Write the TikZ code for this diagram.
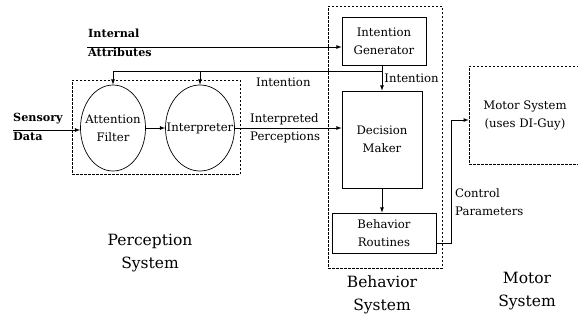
\documentclass[tikz,border=0pt]{standalone}
\usepackage{fontspec}
\setmainfont{DejaVu Serif}
\usetikzlibrary{shapes,arrows,positioning,calc}

\begin{document}
\begin{tikzpicture}[x=1pt,y=-1pt,>=latex,
every node/.style={font=\fontsize{11.7}{18}\selectfont},
block/.style={
% The shape:
rectangle,
% The border:
draw=black,line width=0.8pt,
% The text
align=center,inner sep=0pt
},
blob/.style={
% The shape:
ellipse,
% The border:
draw=black,line width=0.7pt,
inner sep=0pt
},
group/.style={
% The shape:
rectangle,
% The border: short dashes
draw=black,line width=0.6pt,dash pattern=on 2.5pt off 1.5pt,
align=center,inner sep=0pt
},
tag/.style={align=left,inner sep=0pt},
heading/.style={tag,font=\fontsize{11.2}{19}\selectfont\bfseries},
caption/.style={align=center,inner sep=0pt,font=\fontsize{15.5}{23}\selectfont},
link/.style={line width=0.8pt}]

\useasboundingbox[fill=white] (0,0) rectangle (578,322);

% Perception system
\node (perc) [group, minimum width=168pt, minimum height=94pt] at (156,127) {};
\node (attn) [blob, minimum width=65pt, minimum height=86pt,
 label={[align=center]center:Attention\\Filter}] at (113,128) {};
\node (interp) [blob, minimum width=69pt, minimum height=86pt,
 label={center:Interpreter}] at (200,128) {};

% Behavior system
\node (beh) [group, minimum width=114pt, minimum height=262pt] at (385,137) {};
\node (igen) [block, minimum width=84pt, minimum height=48pt] at (384,41) {Intention\\Generator};
\node (dm) [block, minimum width=80pt, minimum height=97pt] at (382,139.5) {Decision\\Maker};
\node (brout) [block, minimum width=104pt, minimum height=40pt] at (384,233) {Behavior\\Routines};

% Motor system
\node (motor) [group, minimum width=112pt, minimum height=98pt] at (525,115) {Motor System\\(uses DI-Guy)};

% labels
\node (iatag) [heading, anchor=west] at (88,43) {Internal\\Attributes};
\node (sdtag) [heading, anchor=west] at (13,127) {Sensory\\Data};
\node (iptag) [tag, anchor=west] at (250,128) {Interpreted\\Perceptions};
\node (fbtag) [tag, anchor=west] at (256,82) {Intention};
\node (cptag) [tag, anchor=west] at (455,202) {Control\\Parameters};
\node (percsys) [caption] at (150,253) {Perception\\System};
\node (behsys) [caption] at (382,295) {Behavior\\System};
\node (motsys) [caption] at (527,291) {Motor\\System};

\coordinate (iain) at (87,47);
\coordinate (sdin) at (13,130);
\coordinate (fb) at (dm.north |- 0,71);

\draw [link,->] (iain) -- (iain -| igen.west);
\draw [link,->] (sdin) -- (sdin -| attn.west);
\path (attn) edge[link,->] (interp);
\path (interp) edge[link,->] (interp -| dm.west);
\path (igen.south -| dm.north) edge[link,->] node[right, inner sep=2pt] {Intention} (dm.north);
\draw [link,->] (fb) -| (attn.north);
\draw [link,->] (interp.north |- fb) -- (interp.north);
\path (dm.south) edge[link,->] (dm.south |- brout.north);
\draw [link,->] ([yshift=-10pt]brout.east) -- ++(15,0) |- ([yshift=-5pt]motor.west);
\end{tikzpicture}
\end{document}
